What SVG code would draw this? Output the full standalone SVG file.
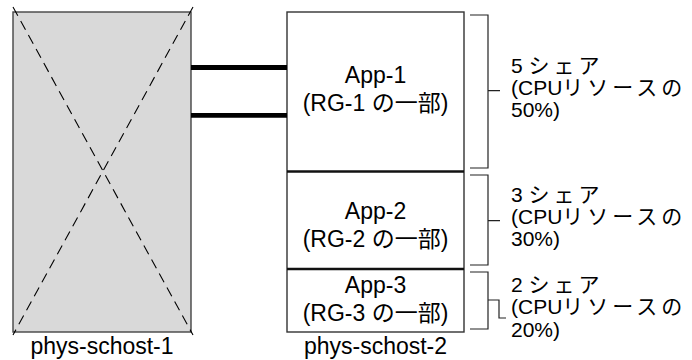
<svg xmlns="http://www.w3.org/2000/svg" width="692" height="360" viewBox="0 0 692 360">
  <style>
    text { font-family: "Liberation Sans", "Noto Sans CJK JP", Arial, sans-serif; fill: #000; }
    .lbl { font-size: 23px; text-anchor: middle; }
    .share { font-size: 21px; }
    .jp { letter-spacing: 4px; }
    .box { fill: #fff; stroke: #333; stroke-width: 1.4; }
    .host { fill: #d9d9d9; stroke: #444; stroke-width: 1.4; }
    .cross { stroke: #000; stroke-width: 1.1; stroke-dasharray: 10 6; fill: none; }
    .div { stroke: #111; stroke-width: 2.6; }
    .link { stroke: #000; stroke-width: 4.8; }
    .brace { fill: none; stroke: #222; stroke-width: 1.2; }
  </style>

  <!-- physical host 1: shaded box crossed out -->
  <g id="phys-schost-1">
    <rect class="host" x="13" y="12" width="178" height="320"/>
    <line class="cross" x1="13" y1="7" x2="193" y2="335"/>
    <line class="cross" x1="193" y1="7" x2="13" y2="335"/>
    <text class="lbl" x="102" y="354">phys-schost-1</text>
  </g>

  <!-- physical host 2 with three application zones -->
  <g id="phys-schost-2">
    <rect class="box" x="287" y="12" width="177" height="320"/>
    <text class="lbl" x="375.5" y="354">phys-schost-2</text>
  </g>

  <g id="app-1">
    <text class="lbl" x="375.5" y="83">App-1</text>
    <text class="lbl" x="375.5" y="111">(RG-1 の一部)</text>
  </g>

  <g id="app-2">
    <text class="lbl" x="375.5" y="219">App-2</text>
    <text class="lbl" x="375.5" y="247">(RG-2 の一部)</text>
  </g>

  <g id="app-3">
    <text class="lbl" x="375.5" y="293">App-3</text>
    <text class="lbl" x="375.5" y="321">(RG-3 の一部)</text>
  </g>

  <!-- CPU share annotations -->
  <g id="share-1">
    <text class="share" x="511" y="73">5 <tspan class="jp">シェア</tspan></text>
    <text class="share" x="511" y="95">(CPU<tspan class="jp">リソースの</tspan></text>
    <text class="share" x="511" y="117">50%)</text>
  </g>
  <g id="share-2">
    <text class="share" x="511" y="202">3 <tspan class="jp">シェア</tspan></text>
    <text class="share" x="511" y="224">(CPU<tspan class="jp">リソースの</tspan></text>
    <text class="share" x="511" y="246">30%)</text>
  </g>
  <g id="share-3">
    <text class="share" x="511" y="292">2 <tspan class="jp">シェア</tspan></text>
    <text class="share" x="511" y="314">(CPU<tspan class="jp">リソースの</tspan></text>
    <text class="share" x="511" y="337">20%)</text>
  </g>

  <!-- connectors: interconnects, zone dividers and brackets -->
  <g id="connectors">
    <line class="link" x1="191" y1="67.5" x2="287" y2="67.5"/>
    <line class="link" x1="191" y1="115.3" x2="287" y2="115.3"/>
    <line class="div" x1="287" y1="171.5" x2="464" y2="171.5"/>
    <line class="div" x1="287" y1="269" x2="464" y2="269"/>
    <path class="brace" d="M470 15 H488 V168 H470 M488 90.7 H500"/>
    <path class="brace" d="M470 175 H488 V265 H470 M488 220.7 H500"/>
    <path class="brace" d="M470 272 H488 V329 H470 M488 300 H499 V318 H506"/>
  </g>
</svg>
